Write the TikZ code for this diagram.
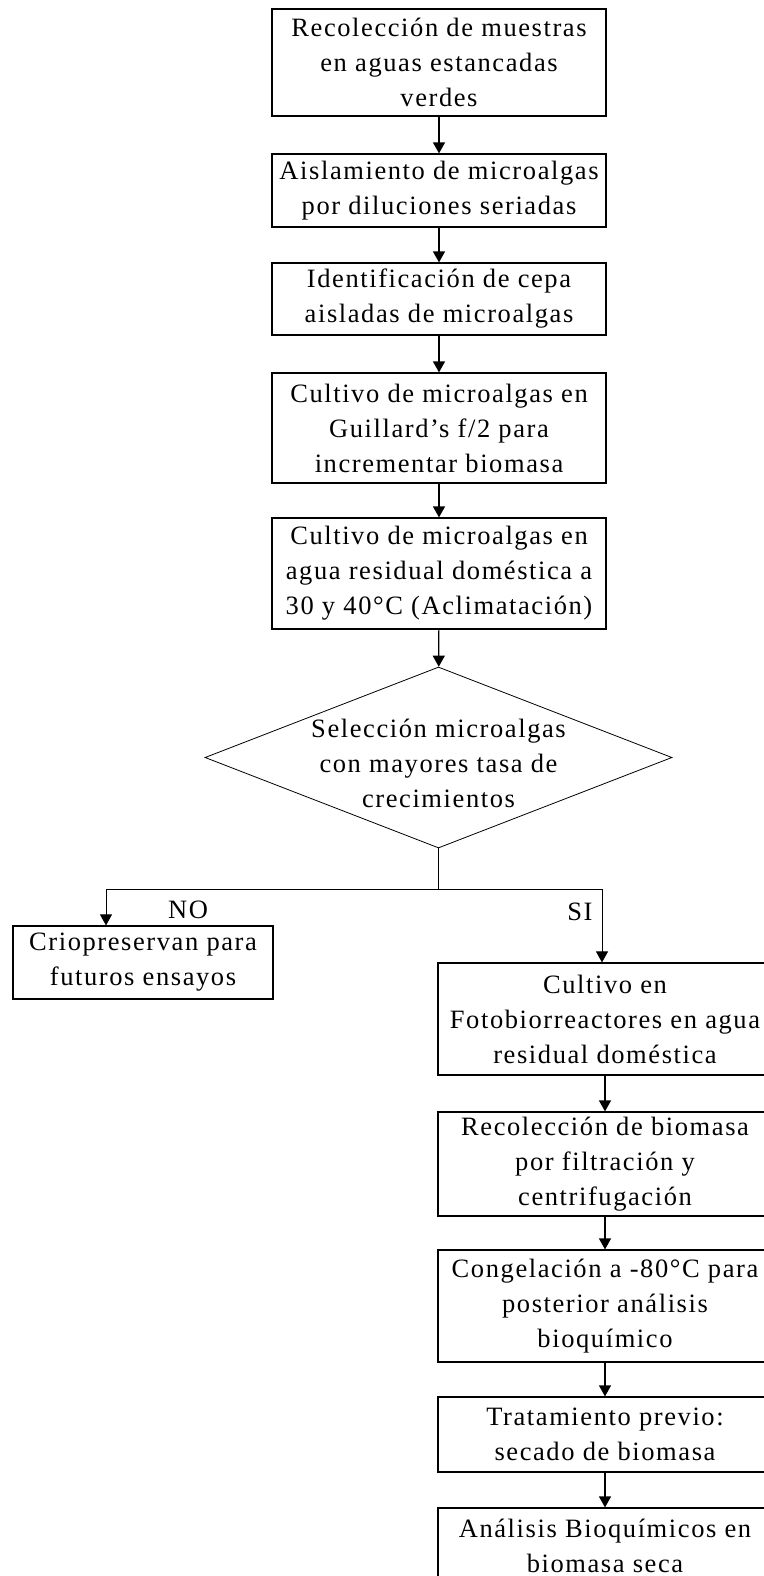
\documentclass[tikz,border=0pt]{standalone}
\usepackage{fontspec}
\setmainfont{Liberation Serif}[LetterSpace=6]
\usetikzlibrary{shapes.geometric,arrows.meta}

\begin{document}
\begin{tikzpicture}[x=1pt, y=-1pt, font=\fontsize{26.5}{35}\selectfont,
  box/.style = {shape=rectangle, draw, align=center, line width=1.2pt, minimum width=334pt, inner sep=0pt},
  decision/.style = {shape=diamond, draw, line width=0.8pt, minimum width=467pt, minimum height=181pt, inner sep=0pt},
  arr/.style = {line width=1.2pt, -{Triangle[width=12pt,length=11pt]}},
  branch/.style = {line width=0.8pt}]
\useasboundingbox (0,0) rectangle (763,1576);

\node[box, minimum height=107pt] (recol) at (439,62.5) {Recolección de muestras\\en aguas estancadas\\verdes};
\node[box, minimum height=73pt] (aisl) at (439,190.5) {Aislamiento de microalgas\\por diluciones seriadas};
\node[box, minimum height=72pt] (ident) at (439,299) {Identificación de cepa\\aisladas de microalgas};
\node[box, minimum height=110pt] (guill) at (439,428) {Cultivo de microalgas en\\Guillard’s f/2 para\\incrementar biomasa};
\node[box, minimum height=111pt] (aclim) at (439,573.5) {Cultivo de microalgas en\\agua residual doméstica a\\30 y 40°C (Aclimatación)};
\node[decision, label={[align=center, yshift=-6pt]center:Selección microalgas\\con mayores tasa de\\crecimientos}] (selec) at (438.5,757.5) {};

\coordinate (br) at ([yshift=-41pt]selec.south);
\node[box, minimum width=260pt, minimum height=73pt] (crio) at (143,962.5) {Criopreservan para\\futuros ensayos};
\node[box, minimum height=112pt] (foto) at (605,1019) {Cultivo en\\Fotobiorreactores en agua\\residual doméstica};
\node[box, minimum height=104pt] (filtr) at (605,1164) {Recolección de biomasa\\por filtración y\\centrifugación};
\node[box, minimum height=112pt] (conge) at (605,1306) {Congelación a -80°C para\\posterior análisis\\bioquímico};
\node[box, minimum height=75pt] (secad) at (605,1434.5) {Tratamiento previo:\\secado de biomasa};
\node[box, minimum height=75pt] (anali) at (605,1545.5) {Análisis Bioquímicos en\\biomasa seca};

% columna principal
\draw[arr] (recol) -- (aisl);
\draw[arr] (aisl) -- (ident);
\draw[arr] (ident) -- (guill);
\draw[arr] (guill) -- (aclim);
\draw[arr] (aclim) -- (selec);

% ramas
\draw[branch] (selec.south) -- (br);
\draw[arr, line width=0.8pt] (br) -| ([xshift=-37pt]crio.north);
\draw[arr, line width=0.8pt] (br) -| ([xshift=-3pt]foto.north);
\node (no) at (188,910) {NO};
\node (si) at (580,912) {SI};

\draw[arr] (foto) -- (filtr);
\draw[arr] (filtr) -- (conge);
\draw[arr] (conge) -- (secad);
\draw[arr] (secad) -- (anali);
\end{tikzpicture}
\end{document}
